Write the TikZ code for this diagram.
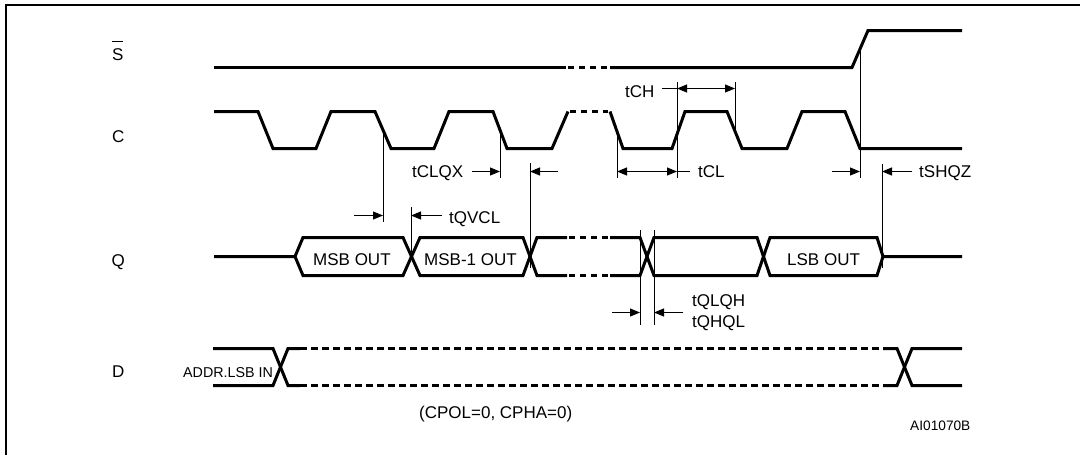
\documentclass[tikz,border=0pt]{standalone}
\usepackage{fontspec}
\setmainfont{Liberation Sans}
\usetikzlibrary{arrows.meta}
\begin{document}
\begin{tikzpicture}[x=1pt,y=-1pt,
  sig/.style={line width=3pt, line join=miter, line cap=butt},
  dsig/.style={sig, dash pattern=on 7pt off 4pt},
  gapsig/.style={sig, dash pattern=on 6pt off 5pt},
  ref/.style={line width=1pt},
  dimline/.style={line width=1pt},
  tipr/.style={dimline, -{Triangle[length=10pt,width=8pt]}},
  tipb/.style={dimline, {Triangle[length=10pt,width=8pt]}-{Triangle[length=10pt,width=8pt]}},
  lbl/.style={font=\fontsize{17}{20}\selectfont, inner sep=0pt, anchor=base west},
  smalllbl/.style={font=\fontsize{14.3}{16}\selectfont, inner sep=0pt, anchor=base west},
  tinylbl/.style={font=\fontsize{13.7}{16}\selectfont, inner sep=0pt, anchor=base west},
]
\useasboundingbox (0,0) rectangle (1080,455);
% frame
\draw[line width=2pt] (6,456) -- (6,5) -- (1081,5);

% signal names
\node[lbl] (nS) at (112,60) {S};
\draw[line width=1pt] (112,41) -- (123,41);
\node[lbl] (nC) at (112,142) {C};
\node[lbl] (nQ) at (111.5,266) {Q};
\node[lbl] (nD) at (112,377) {D};

% S waveform
\draw[sig] (214,67.5) -- (566,67.5);
\draw[gapsig] (568,67.5) -- (608,67.5);
\draw[sig] (610,67.5) -- (852,67.5) -- (868,30.5) -- (962,30.5);

% C waveform
\draw[sig] (214,111.5) -- (258,111.5) -- (273,148.5) -- (316,148.5) -- (331,111.5) -- (375,111.5)
  -- (391,148.5) -- (434,148.5) -- (449,111.5) -- (493,111.5) -- (507,148.5) -- (552,148.5) -- (568,111.5);
\draw[gapsig] (570,111.5) -- (608,111.5);
\draw[sig] (610,111.5) -- (623,148.5) -- (672,148.5) -- (685,111.5) -- (727,111.5) -- (742,148.5)
  -- (787,148.5) -- (802,111.5) -- (845,111.5) -- (860,148.5) -- (962,148.5);

% Q bus
\draw[sig] (214,256.5) -- (295,256.5) -- (303,237.5) -- (403,237.5) -- (420,275.5) -- (523,275.5) -- (537,237.5) -- (567,237.5);
\draw[sig] (295,256.5) -- (303,275.5) -- (403,275.5) -- (420,237.5) -- (523,237.5) -- (537,275.5) -- (567,275.5);
\draw[gapsig] (569,237.5) -- (608,237.5);
\draw[gapsig] (569,275.5) -- (608,275.5);
\draw[sig] (610,237.5) -- (640,237.5) -- (654,275.5) -- (757,275.5) -- (770,237.5) -- (877,237.5) -- (883,256.5) -- (962,256.5);
\draw[sig] (610,275.5) -- (640,275.5) -- (654,237.5) -- (757,237.5) -- (770,275.5) -- (877,275.5) -- (883,256.5);
\node[lbl] (msb) at (313,265) {MSB OUT};
\node[lbl] (msb1) at (424,265) {MSB-1 OUT};
\node[lbl] (lsb) at (787,265) {LSB OUT};

% D bus
\draw[sig] (213,348.5) -- (273,348.5) -- (288,385.5) -- (300,385.5);
\draw[sig] (213,385.5) -- (273,385.5) -- (288,348.5) -- (300,348.5);
\draw[dsig] (300,348.5) -- (880,348.5);
\draw[dsig] (300,385.5) -- (880,385.5);
\draw[sig] (883,348.5) -- (897,348.5) -- (912,385.5) -- (962,385.5);
\draw[sig] (883,385.5) -- (897,385.5) -- (912,348.5) -- (962,348.5);
\node[smalllbl] (addr) at (183,377) {ADDR.LSB IN};

% reference lines
\coordinate (v1t) at (383,130); \coordinate (v1b) at (383,222);
\coordinate (v2t) at (500,130); \coordinate (v2b) at (500,178);
\coordinate (v3t) at (411,207); \coordinate (v3b) at (411,260);
\coordinate (v4t) at (530,163); \coordinate (v4b) at (530,268);
\coordinate (v5t) at (617,130); \coordinate (v5b) at (617,178);
\coordinate (v6t) at (677,82);  \coordinate (v6b) at (677,178);
\coordinate (v7t) at (735,82);  \coordinate (v7b) at (735,131);
\coordinate (v8t) at (860,47);  \coordinate (v8b) at (860,178);
\coordinate (v9t) at (882,164); \coordinate (v9b) at (882,268);
\coordinate (vat) at (640,230); \coordinate (vab) at (640,325);
\coordinate (vbt) at (654,230); \coordinate (vbb) at (654,325);
\foreach \a/\b in {v1t/v1b,v2t/v2b,v3t/v3b,v4t/v4b,v5t/v5b,v6t/v6b,v7t/v7b,v8t/v8b,v9t/v9b,vat/vab,vbt/vbb}
  \draw[ref] (\a) -- (\b);

% tCH
\node[lbl] (tch) at (625,97) {tCH};
\draw[dimline] (662,88.5) -- (677,88.5);
\draw[tipb] (677,88.5) -- (735,88.5);
% tCLQX
\node[lbl] (tclqx) at (412,177) {tCLQX};
\draw[tipr] (472,171.5) -- (500,171.5);
\draw[tipr] (558,171.5) -- (530,171.5);
% tQVCL
\draw[tipr] (354,215.5) -- (383,215.5);
\draw[tipr] (442,215.5) -- (411,215.5);
\node[lbl] (tqvcl) at (449,223) {tQVCL};
% tCL
\draw[tipb] (617,171.5) -- (677,171.5);
\draw[dimline] (677,171.5) -- (690,171.5);
\node[lbl] (tcl) at (698,177) {tCL};
% tSHQZ
\draw[tipr] (832,171.5) -- (860,171.5);
\draw[tipr] (912,171.5) -- (882,171.5);
\node[lbl] (tshqz) at (919,177) {tSHQZ};
% tQLQH / tQHQL
\draw[tipr] (612,312.5) -- (640,312.5);
\draw[tipr] (683,312.5) -- (654,312.5);
\node[lbl] (tqlqh) at (692,306) {tQLQH};
\node[lbl] (tqhql) at (692,327) {tQHQL};

% notes
\node[lbl] (cpol) at (419,418) {(CPOL=0, CPHA=0)};
\node[tinylbl] (ai) at (910,430) {AI01070B};
\end{tikzpicture}
\end{document}
